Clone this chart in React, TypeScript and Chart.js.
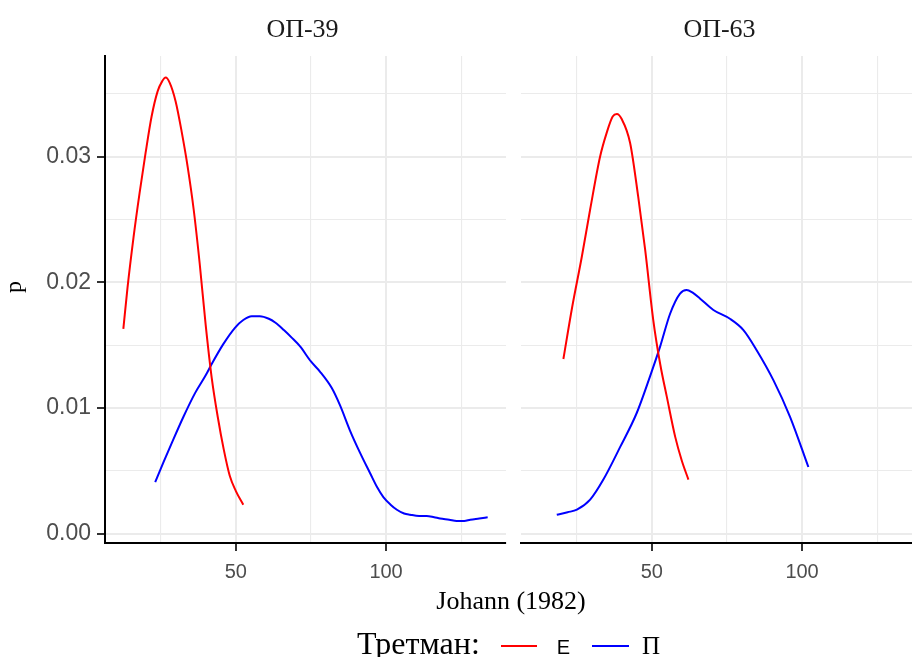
import React, { useEffect, useRef } from "react";
import { Chart, registerables } from "chart.js";

Chart.register(...registerables);

// ---- Data ----
const panels = ["ОП-39", "ОП-63"];
const treatments = ["Е", "П"];
const treatmentColors = ["#FF0000", "#0000FF"];
const xTitle = "Johann (1982)";
const yTitle = "p";
const legendTitle = "Третман:";
const xLimits = [6.5, 139.9];
const yLimits = [-0.00075, 0.03802];

// ОП-39, Е
const op39EX = [12.6, 14, 16, 18, 20, 22, 24, 25.5, 26.7, 28, 30, 32, 34, 36, 38, 40, 42, 44, 46, 48, 50, 52.5];
const op39EY = [0.0163, 0.0196, 0.0236, 0.0271, 0.0303, 0.0332, 0.0352, 0.036, 0.0363, 0.0359, 0.0344, 0.032, 0.0292, 0.0258, 0.0215, 0.0166, 0.0124, 0.0093, 0.0067, 0.0046, 0.0034, 0.0023];

// ОП-39, П
const op39PX = [23.2, 26, 28.7, 32.6, 36.5, 40, 42, 45.9, 49.8, 52.5, 55.3, 58, 61, 63.1, 66, 68.6, 71.4, 75, 78, 81.9, 84.7, 88, 91.4, 94.7, 97, 99.1, 101.5, 103.6, 106, 108, 111, 113.5, 116, 118, 121, 123.5, 126, 128, 131, 133.8];
const op39PY = [0.0041, 0.0057, 0.0072, 0.0093, 0.0112, 0.0126, 0.0135, 0.0151, 0.0164, 0.017, 0.0173, 0.0173, 0.0171, 0.0168, 0.0162, 0.0156, 0.0149, 0.0137, 0.0129, 0.0116, 0.0102, 0.0082, 0.0064, 0.0048, 0.0037, 0.0029, 0.0023, 0.0019, 0.0016, 0.0015, 0.0014, 0.0014, 0.0013, 0.0012, 0.0011, 0.001, 0.001, 0.0011, 0.0012, 0.0013];

// ОП-63, Е
const op63EX = [20.6, 23.5, 26.7, 29.5, 32.8, 35, 37, 38.4, 40, 42.8, 45.5, 47.8, 50.5, 52.8, 55, 57.8, 60, 62.2];
const op63EY = [0.0139, 0.018, 0.022, 0.0258, 0.03, 0.0319, 0.0332, 0.0334, 0.033, 0.0311, 0.0268, 0.0226, 0.017, 0.0135, 0.0109, 0.0077, 0.0058, 0.0043];

// ОП-63, П
const op63PX = [18.4, 22, 25.1, 29.5, 33.9, 39.5, 45, 49.4, 52.8, 56.1, 59.4, 61.6, 63.5, 66.1, 70.5, 76, 80.5, 84.9, 90.5, 96, 102.1];
const op63PY = [0.0015, 0.0017, 0.0019, 0.0027, 0.0043, 0.0069, 0.0096, 0.0125, 0.0149, 0.0175, 0.0191, 0.0194, 0.0192, 0.0187, 0.0178, 0.0171, 0.0162, 0.0146, 0.0122, 0.0093, 0.0053];

// ---- Helpers ----
const isMajorX = (v: number) => Math.abs(v / 50 - Math.round(v / 50)) < 1e-6;
const isMajorY = (v: number) => Math.abs(v * 100 - Math.round(v * 100)) < 1e-6;

function dataset(xs: number[], ys: number[], color: string, label: string) {
  return {
    label,
    data: xs.map((x, i) => ({ x, y: ys[i] })),
    borderColor: color,
    backgroundColor: color,
    borderWidth: 2,
    pointRadius: 0,
    fill: false,
    cubicInterpolationMode: "monotone",
  };
}

function makeChart(canvas: HTMLCanvasElement, datasets: any[], showY: boolean, padding: any) {
  return new Chart(canvas, {
    type: "line",
    data: { datasets },
    options: {
      responsive: false,
      animation: false,
      layout: { padding },
      plugins: { legend: { display: false }, tooltip: { enabled: false }, title: { display: false } },
      scales: {
        x: {
          type: "linear",
          min: xLimits[0],
          max: xLimits[1],
          ticks: {
            stepSize: 25,
            includeBounds: false,
            autoSkip: false,
            maxRotation: 0,
            padding: 9,
            color: "#4D4D4D",
            font: { family: "'Liberation Sans', Arial, sans-serif", size: 20 },
            callback: (v: any) => (isMajorX(Number(v)) ? String(v) : ""),
          },
          grid: {
            color: "#EBEBEB",
            lineWidth: (ctx: any) => (ctx.tick && isMajorX(ctx.tick.value) ? 2 : 1.1),
            drawTicks: true,
            tickLength: 8,
            tickWidth: 2,
            tickColor: (ctx: any) => (ctx.tick && isMajorX(ctx.tick.value) ? "#333333" : "rgba(0,0,0,0)"),
          },
          border: { display: true, color: "#000000", width: 2 },
          afterFit: (s: any) => {
            s.height = 57;
          },
        },
        y: {
          type: "linear",
          min: yLimits[0],
          max: yLimits[1],
          ticks: {
            display: showY,
            stepSize: 0.005,
            includeBounds: false,
            autoSkip: false,
            padding: 6,
            color: "#4D4D4D",
            font: { family: "'Liberation Sans', Arial, sans-serif", size: 23 },
            callback: (v: any) => (isMajorY(Number(v)) ? Number(v).toFixed(2) : ""),
          },
          grid: {
            color: "#EBEBEB",
            lineWidth: (ctx: any) => (ctx.tick && isMajorY(ctx.tick.value) ? 2 : 1.1),
            drawTicks: showY,
            tickLength: 8,
            tickWidth: 2,
            tickColor: (ctx: any) => (ctx.tick && isMajorY(ctx.tick.value) ? "#333333" : "rgba(0,0,0,0)"),
          },
          border: { display: showY, color: "#000000", width: 2 },
          afterFit: (s: any) => {
            s.width = showY ? 105 : 0;
          },
        },
      },
    } as any,
  });
}

const serif = "'Liberation Serif', 'Times New Roman', serif";
const sans = "'Liberation Sans', Arial, sans-serif";

export default function App() {
  const leftRef = useRef<HTMLCanvasElement>(null);
  const rightRef = useRef<HTMLCanvasElement>(null);

  useEffect(() => {
    const left = makeChart(
      leftRef.current!,
      [
        dataset(op39EX, op39EY, treatmentColors[0], treatments[0]),
        dataset(op39PX, op39PY, treatmentColors[1], treatments[1]),
      ],
      true,
      { top: 56, right: 9, left: 0, bottom: 0 }
    );
    const right = makeChart(
      rightRef.current!,
      [
        dataset(op63EX, op63EY, treatmentColors[0], treatments[0]),
        dataset(op63PX, op63PY, treatmentColors[1], treatments[1]),
      ],
      false,
      { top: 56, right: 13, left: 6, bottom: 0 }
    );
    return () => {
      left.destroy();
      right.destroy();
    };
  }, []);

  return (
    <div style={{ position: "absolute", left: 0, top: 0, width: 912, height: 657, overflow: "hidden", background: "#FFFFFF" }}>
      <canvas ref={leftRef} width={515} height={600} style={{ position: "absolute", left: 0, top: 0, width: 515, height: 600 }} />
      <canvas ref={rightRef} width={420} height={600} style={{ position: "absolute", left: 515, top: 0, width: 420, height: 600 }} />

      <div style={{ position: "absolute", left: 102, width: 401, top: 15.7, textAlign: "center", fontFamily: serif, fontSize: 26, lineHeight: "26px", color: "#1A1A1A", whiteSpace: "nowrap" }}>
        {panels[0]}
      </div>
      <div style={{ position: "absolute", left: 519, width: 401, top: 15.7, textAlign: "center", fontFamily: serif, fontSize: 26, lineHeight: "26px", color: "#1A1A1A", whiteSpace: "nowrap" }}>
        {panels[1]}
      </div>

      <div style={{ position: "absolute", left: 511, top: 587.5, transform: "translateX(-50%)", fontFamily: serif, fontSize: 26, lineHeight: "26px", color: "#000", whiteSpace: "nowrap" }}>
        {xTitle}
      </div>

      <div style={{ position: "absolute", left: 13.4, top: 287, transform: "translate(-50%, -50%) rotate(-90deg)", fontFamily: serif, fontSize: 24, lineHeight: "24px", color: "#000", whiteSpace: "nowrap" }}>
        {yTitle}
      </div>

      <div style={{ position: "absolute", left: 357, top: 626.7, fontFamily: serif, fontSize: 32, lineHeight: "32px", color: "#000", whiteSpace: "nowrap" }}>
        {legendTitle}
      </div>
      <div style={{ position: "absolute", left: 501, top: 644.7, width: 36, height: 2, background: treatmentColors[0] }} />
      <div style={{ position: "absolute", left: 556.7, top: 636.6, fontFamily: sans, fontSize: 20, lineHeight: "20px", color: "#000", whiteSpace: "nowrap" }}>
        {treatments[0]}
      </div>
      <div style={{ position: "absolute", left: 592, top: 644.7, width: 37, height: 2, background: treatmentColors[1] }} />
      <div style={{ position: "absolute", left: 642, top: 632.6, fontFamily: serif, fontSize: 25, lineHeight: "25px", color: "#000", whiteSpace: "nowrap" }}>
        {treatments[1]}
      </div>
    </div>
  );
}
